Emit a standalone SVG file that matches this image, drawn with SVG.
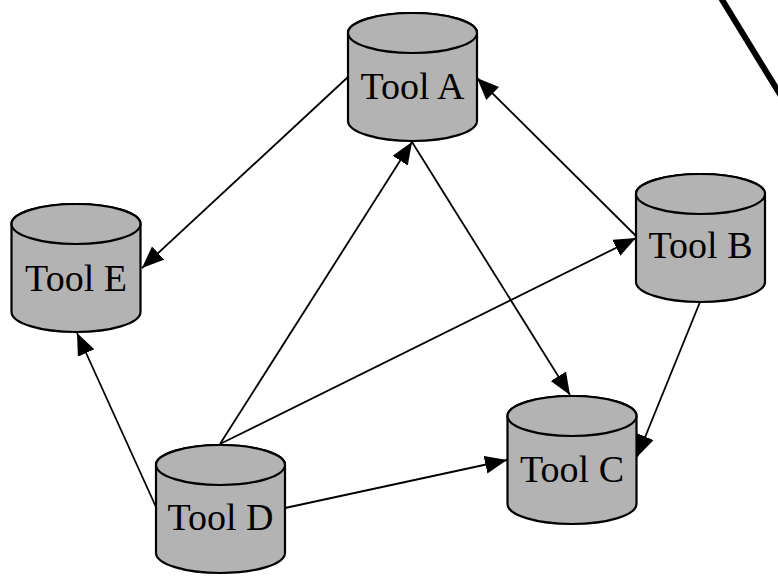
<svg xmlns="http://www.w3.org/2000/svg" xmlns:xlink="http://www.w3.org/1999/xlink" width="778" height="581" viewBox="0 0 778 581">
  <style>
    .cyl { fill: #b3b3b3; stroke: #000; stroke-width: 2.2; }
    .label { font-family: "Liberation Serif", "Times New Roman", serif; font-size: 38px; fill: #000; text-anchor: middle; }
    .edge { fill: none; stroke: #000; stroke-width: 1.8; marker-end: url(#head); }
  </style>
  <defs>
    <!-- cylinder in local coordinates: top ellipse centred at (0,0), bottom ellipse at (0,88) -->
    <g id="cylinder">
      <path class="cyl" d="M -64.5 0 L -64.5 88 A 64.5 20 0 0 0 64.5 88 L 64.5 0 A 64.5 20 0 0 0 -64.5 0 Z"/>
      <ellipse class="cyl" cx="0" cy="0" rx="64.5" ry="20"/>
    </g>
    <marker id="head" markerUnits="userSpaceOnUse" markerWidth="24" markerHeight="20" viewBox="0 0 24 20" refX="22" refY="9" orient="auto">
      <path d="M 0 0 L 22 9 L 0 18 Z" fill="#000"/>
    </marker>
  </defs>

  <!-- heavy stroke in the upper right corner -->
  <line x1="721" y1="-2" x2="781" y2="96" stroke="#000" stroke-width="6"/>

  <g id="connectors">
    <line class="edge" x1="348" y1="77" x2="142" y2="268"/>
    <line class="edge" x1="636" y1="236" x2="477" y2="78"/>
    <line class="edge" x1="220" y1="444" x2="412" y2="142"/>
    <line class="edge" x1="220" y1="444" x2="636" y2="238"/>
    <line class="edge" x1="412" y1="142" x2="570" y2="395"/>
    <line class="edge" x1="700" y1="302" x2="637" y2="457"/>
    <line class="edge" x1="285" y1="508" x2="507" y2="460"/>
    <line class="edge" x1="156" y1="507" x2="77" y2="333"/>
  </g>

  <g id="tool-a" transform="translate(412.5,33)">
    <use xlink:href="#cylinder"/>
    <text class="label" x="0" y="66">Tool A</text>
  </g>
  <g id="tool-e" transform="translate(76,224)">
    <use xlink:href="#cylinder"/>
    <text class="label" x="0" y="67">Tool E</text>
  </g>
  <g id="tool-b" transform="translate(700.5,194)">
    <use xlink:href="#cylinder"/>
    <text class="label" x="0" y="64">Tool B</text>
  </g>
  <g id="tool-c" transform="translate(572,416)">
    <use xlink:href="#cylinder"/>
    <text class="label" x="0" y="66">Tool C</text>
  </g>
  <g id="tool-d" transform="translate(220.5,465)">
    <use xlink:href="#cylinder"/>
    <text class="label" x="0" y="65">Tool D</text>
  </g>
</svg>
